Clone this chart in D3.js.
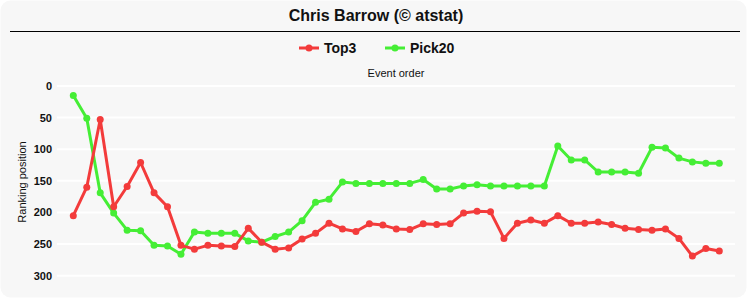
<!DOCTYPE html>
<html>
<head>
<meta charset="utf-8">
<script src="https://cdn.jsdelivr.net/npm/d3@7"></script>
<style>
  body { margin: 0; background: #fff; }
  svg text { font-family: "Liberation Sans", Arial, sans-serif; }
</style>
</head>
<body>
<div id="chart"></div>
<script>
// data
var events = d3.range(1, 50);
var top3 = [205, 160, 53, 191, 159, 121, 169, 191, 252, 258, 252, 253, 254, 225, 247, 258, 256, 242, 233, 217,
            226, 230, 218, 220, 226, 227, 218, 219, 218, 201, 198, 199, 241, 217, 212, 217, 205, 217, 217, 215,
            219, 225, 227, 228, 226, 241, 269, 257, 261];
var pick20 = [15, 51, 169, 201, 228, 229, 252, 253, 266, 231, 233, 233, 233, 245, 247, 238, 231, 213, 184, 179,
              152, 154, 154, 154, 154, 154, 148, 163, 163, 158, 156, 158, 158, 158, 158, 158, 95, 117, 117, 136,
              136, 136, 138, 97, 98, 114, 120, 122, 122];
var yTicks = [0, 50, 100, 150, 200, 250, 300];
var seriesNames = ["Top3", "Pick20"];
var seriesColors = ["#f33b3b", "#45ee35"];

var W = 750, H = 300;

var svg = d3.select("#chart")
  .append("svg")
  .attr("width", W)
  .attr("height", H);

// card background
svg.append("rect")
  .attr("x", 0.5).attr("y", 0.5)
  .attr("width", 746).attr("height", 297)
  .attr("rx", 10).attr("ry", 10)
  .attr("fill", "#f7f7f7");

// title
svg.append("text")
  .attr("x", 376).attr("y", 21)
  .attr("text-anchor", "middle")
  .attr("font-size", 16)
  .attr("font-weight", "bold")
  .attr("fill", "#111")
  .text("Chris Barrow (\u00a9 atstat)");

svg.append("line")
  .attr("x1", 10).attr("x2", 740)
  .attr("y1", 31.5).attr("y2", 31.5)
  .attr("stroke", "#000")
  .attr("stroke-width", 1);

// legend
var legendPos = [{x: 299, tx: 324}, {x: 385, tx: 410}];
seriesNames.forEach(function(name, i){
  var g = svg.append("g");
  g.append("line")
    .attr("x1", legendPos[i].x).attr("x2", legendPos[i].x + 20)
    .attr("y1", 48).attr("y2", 48)
    .attr("stroke", seriesColors[i])
    .attr("stroke-width", 3);
  g.append("circle")
    .attr("cx", legendPos[i].x + 10).attr("cy", 48)
    .attr("r", 3.5)
    .attr("fill", seriesColors[i]);
  g.append("text")
    .attr("x", legendPos[i].tx).attr("y", 53)
    .attr("font-size", 14)
    .attr("font-weight", "bold")
    .attr("fill", "#111")
    .text(name);
});

// x axis title (top)
svg.append("text")
  .attr("x", 396).attr("y", 77)
  .attr("text-anchor", "middle")
  .attr("font-size", 11)
  .attr("fill", "#111")
  .text("Event order");

// scales
var x = d3.scalePoint()
  .domain(events)
  .range([73.3, 719.3]);

var y = d3.scaleLinear()
  .domain([0, 300])
  .range([86, 275.7]);

// grid
svg.append("g")
  .selectAll("line")
  .data(yTicks)
  .join("line")
    .attr("x1", 57).attr("x2", 735)
    .attr("y1", function(d){ return y(d); })
    .attr("y2", function(d){ return y(d); })
    .attr("stroke", "#fff")
    .attr("stroke-width", 2);

// y axis
var yAxis = svg.append("g")
  .attr("transform", "translate(52,0)")
  .call(d3.axisLeft(y).tickValues(yTicks).tickSize(0).tickPadding(0));
yAxis.select(".domain").remove();
yAxis.selectAll("text")
  .attr("font-family", "Liberation Sans, Arial, sans-serif")
  .attr("font-size", 11)
  .attr("font-weight", "bold")
  .attr("fill", "#111");

svg.append("text")
  .attr("transform", "translate(26,182) rotate(-90)")
  .attr("text-anchor", "middle")
  .attr("font-size", 11)
  .attr("fill", "#111")
  .text("Ranking position");

// series
var line = d3.line()
  .x(function(d, i){ return x(events[i]); })
  .y(function(d){ return y(d); });

[top3, pick20].forEach(function(vals, s){
  var idx = s === 0 ? 1 : 0; // green drawn under red
});

[pick20, top3].forEach(function(vals, k){
  var col = k === 0 ? seriesColors[1] : seriesColors[0];
  svg.append("path")
    .datum(vals)
    .attr("d", line)
    .attr("fill", "none")
    .attr("stroke", col)
    .attr("stroke-width", 3)
    .attr("stroke-linejoin", "round");
  svg.append("g")
    .selectAll("circle")
    .data(vals)
    .join("circle")
      .attr("cx", function(d, i){ return x(events[i]); })
      .attr("cy", function(d){ return y(d); })
      .attr("r", 3.5)
      .attr("fill", col);
});
</script>
</body>
</html>
